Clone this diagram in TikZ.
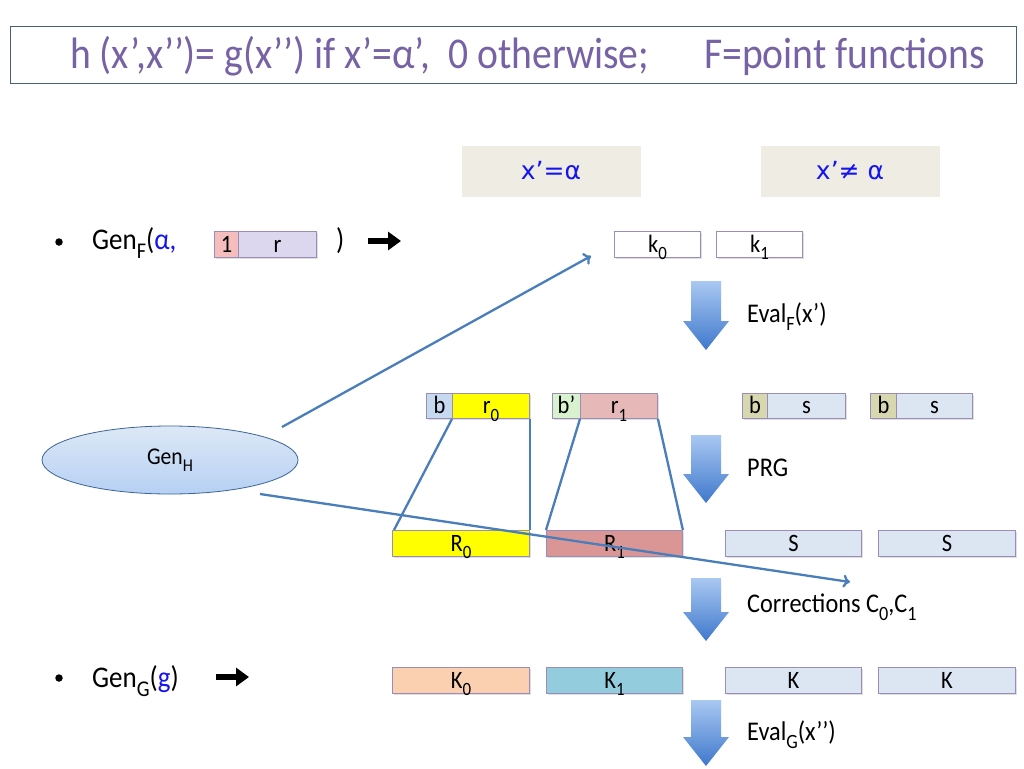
\documentclass[tikz,border=0pt]{standalone}
\usepackage{fontspec}
\usepackage{graphicx}
\setmainfont{Carlito}[FakeStretch=0.9]
\newfontfamily\djv{DejaVu Sans}
\usetikzlibrary{arrows.meta,shapes.geometric,shadows}
\definecolor{titletext}{HTML}{7662A4}
\definecolor{titleline}{HTML}{4A6078}
\definecolor{condfill}{HTML}{EEECE3}
\definecolor{bluetext}{HTML}{1414F0}
\definecolor{boxline}{HTML}{9A8DB8}
\definecolor{connblue}{HTML}{4A7EBB}
\definecolor{arrowtop}{HTML}{A9C8F2}
\definecolor{arrowbot}{HTML}{3F78CC}
\definecolor{pinkone}{HTML}{F6BDBD}
\definecolor{lavr}{HTML}{DCD6EE}
\definecolor{lightblue}{HTML}{C6D9F0}
\definecolor{yel}{HTML}{FFFF00}
\definecolor{lgreen}{HTML}{D8F2D0}
\definecolor{pinkr}{HTML}{E6B9B8}
\definecolor{olivel}{HTML}{D8D8B0}
\definecolor{grayblue}{HTML}{DCE6F2}
\definecolor{pinkR}{HTML}{D99694}
\definecolor{peach}{HTML}{FAD0B0}
\definecolor{teal}{HTML}{93CDDD}
\newcommand\sbs[1]{\raisebox{-0.3em}{\scalebox{0.75}{#1}}}
\tikzset{
  cell/.style={draw=boxline, line width=0.9pt, inner sep=0pt, anchor=north west,
    font=\fontsize{25}{25}\selectfont, text=black, text height=16pt, text depth=0pt,
    drop shadow={opacity=0.25, shadow xshift=1.5pt, shadow yshift=-1.5pt}},
  cond/.style={fill=condfill, inner sep=0pt, minimum width=179pt, minimum height=51pt,
    text=bluetext, font=\djv\fontsize{25}{25}\selectfont},
  lbl/.style={anchor=base west, inner sep=0pt, font=\fontsize{27}{27}\selectfont},
  big/.style={anchor=base west, inner sep=0pt, font=\fontsize{30}{30}\selectfont},
  heavy/.style={line width=6.5pt, -{Triangle[length=13pt,width=18pt]}},
  conn/.style={draw=connblue, line width=2.3pt, -{To[length=7pt,width=13pt]}},
  trap/.style={draw=connblue, line width=2.3pt},
}
\newcommand\fatarrow[3]{%
  \shade[top color=arrowtop, bottom color=arrowbot]
    (#1-15,#2) -- (#1+15,#2) -- (#1+15,#3-29) -- (#1+23,#3-29) -- (#1,#3)
    -- (#1-23,#3-29) -- (#1-15,#3-29) -- cycle;}
\begin{document}
\begin{tikzpicture}[x=1pt,y=-1pt]
\useasboundingbox (0,0) rectangle (1024,768);
\fill[white] (0,0) rectangle (1024,768);
% title
\node[draw=titleline, line width=1pt, minimum width=1006pt, minimum height=56pt, inner sep=0pt] (title) at (513,55) {};
\node[anchor=base west, inner sep=0pt, text=titletext, font=\fontsize{44}{44}\selectfont] (t1) at (70,68) {h (x’,x’’)= g(x’’) if x’=α’,\ \ 0 otherwise;};
\node[anchor=base west, inner sep=0pt, text=titletext, font=\fontsize{44}{44}\selectfont] (t2) at (704,68) {F=point functions};
% conditions
\node[cond] (ceq) at (551,171) {x’=α};
\node[cond] (cneq) at (850,171) {x’≠ α};
% Gen_F line
\node[circle, fill=black, minimum size=7.5pt, inner sep=0pt] (bul1) at (59,242) {};
\node[big] (genf) at (92,249) {Gen\sbs{F}(\textcolor{bluetext}{α,}};
\node[cell, fill=pinkone, minimum width=24pt, minimum height=26pt] (one) at (214,231) {1};
\node[cell, fill=lavr, minimum width=78pt, minimum height=26pt] (rr) at (238,231) {r};
\node[big] (cp) at (336,249) {)};
\coordinate (a1s) at (368,241);
\coordinate (a1e) at (401,241);
\draw[heavy] (a1s) -- (a1e);
% k0 k1
\node[cell, fill=white, minimum width=86pt, minimum height=26pt] (k0) at (614,231) {k\sbs{0}};
\node[cell, fill=white, minimum width=86pt, minimum height=26pt] (k1) at (716,231) {k\sbs{1}};
\fatarrow{706}{281}{350}
\node[lbl] (evf) at (747,322) {Eval\sbs{F}(x’)};
% seed row
\node[cell, fill=lightblue, minimum width=26pt, minimum height=25pt] (b0) at (426,393) {b};
\node[cell, fill=yel, minimum width=77pt, minimum height=25pt] (r0) at (452,393) {r\sbs{0}};
\node[cell, fill=lgreen, minimum width=28pt, minimum height=25pt] (b1) at (552,393) {b’};
\node[cell, fill=pinkr, minimum width=77pt, minimum height=25pt] (r1) at (580,393) {r\sbs{1}};
\node[cell, fill=olivel, minimum width=25pt, minimum height=25pt] (bs1) at (742,393) {b};
\node[cell, fill=grayblue, minimum width=78pt, minimum height=25pt] (s1) at (767,393) {s};
\node[cell, fill=olivel, minimum width=26pt, minimum height=25pt] (bs2) at (870,393) {b};
\node[cell, fill=grayblue, minimum width=76pt, minimum height=25pt] (s2) at (896,393) {s};
\fatarrow{706}{435}{503}
\node[lbl] (prg) at (747,476) {PRG};
% expanded row
\node[cell, fill=yel, minimum width=137pt, minimum height=26pt] (R0) at (392,530) {R\sbs{0}};
\node[cell, fill=pinkR, minimum width=136pt, minimum height=26pt] (R1) at (546,530) {R\sbs{1}};
\node[cell, fill=grayblue, minimum width=136pt, minimum height=26pt] (S1) at (725,530) {S};
\node[cell, fill=grayblue, minimum width=137pt, minimum height=26pt] (S2) at (878,530) {S};
% trapezoids
\draw[trap] (r0.south west) -- ([xshift=2pt]R0.north west);
\draw[trap] (r0.south east) -- (R0.north east);
\draw[trap] (r1.south west) -- (R1.north west);
\draw[trap] (r1.south east) -- (R1.north east);
% Gen_H
\node[ellipse, draw=connblue!80!black, line width=0.8pt, top color=lightblue!60!white, bottom color=arrowtop!85!white,
  minimum width=256pt, minimum height=68pt, inner sep=0pt, font=\fontsize{24}{24}\selectfont] (genh) at (170,460) {Gen\sbs{H}};
\coordinate (g1) at (282,427);
\coordinate (e1) at (591,256);
\coordinate (g2) at (260,494);
\coordinate (e2) at (850,582);
\draw[conn] (g1) -- (e1);
\draw[conn] (g2) -- (e2);
\fatarrow{706}{578}{641}
\node[lbl] (corr) at (747,612) {Corrections C\sbs{0},C\sbs{1}};
% K row
\node[cell, fill=peach, minimum width=137pt, minimum height=26pt] (K0) at (392,667) {K\sbs{0}};
\node[cell, fill=teal, minimum width=136pt, minimum height=26pt] (K1) at (546,667) {K\sbs{1}};
\node[cell, fill=grayblue, minimum width=136pt, minimum height=26pt] (Ka) at (725,667) {K};
\node[cell, fill=grayblue, minimum width=137pt, minimum height=26pt] (Kb) at (878,667) {K};
\fatarrow{706}{700}{766}
\node[lbl] (evg) at (747,740) {Eval\sbs{G}(x’’)};
% Gen_G line
\node[circle, fill=black, minimum size=7.5pt, inner sep=0pt] (bul2) at (59,678) {};
\node[big] (geng) at (92,687) {Gen\sbs{G}(\textcolor{bluetext}{g})};
\coordinate (a2s) at (216,677);
\coordinate (a2e) at (249,677);
\draw[heavy] (a2s) -- (a2e);
\end{tikzpicture}
\end{document}
